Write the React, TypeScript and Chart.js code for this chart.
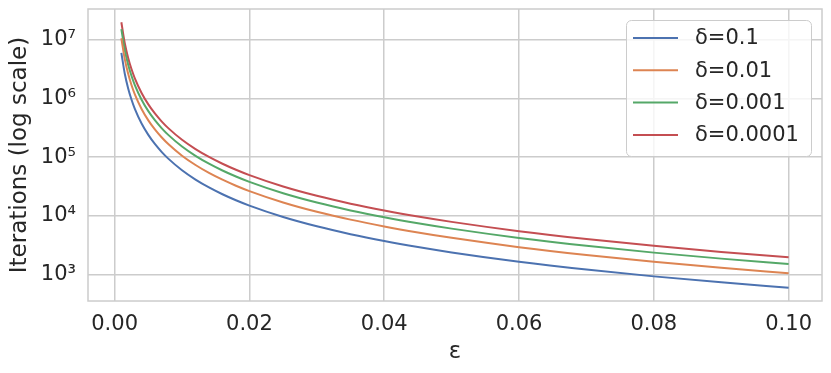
import React, { useEffect, useRef } from "react";
import { Chart, registerables } from "chart.js";

Chart.register(...registerables);

// ε values (x axis)
const epsilon = [
  0.001, 0.0015, 0.002, 0.0025, 0.003, 0.004, 0.005, 0.006, 0.007, 0.008, 0.01,
  0.012, 0.014, 0.016, 0.018, 0.02, 0.025, 0.03, 0.035, 0.04, 0.045, 0.05, 0.06,
  0.07, 0.08, 0.09, 0.1,
];

// Iterations for each δ
const delta1 = [
  5990000, 2662000, 1498000, 958500, 665600, 374400, 239600, 166400, 122300, 93600,
  59900, 41600, 30560, 23400, 18490, 14980, 9585, 6656, 4890, 3744, 2958, 2396,
  1664, 1223, 936, 740, 599,
];
const delta2 = [
  10600000, 4710000, 2650000, 1696000, 1178000, 662300, 423900, 294400, 216300,
  165600, 106000, 73590, 54070, 41390, 32710, 26490, 16960, 11770, 8650, 6623,
  5233, 4239, 2944, 2163, 1656, 1308, 1060,
];
const delta3 = [
  15200000, 6756000, 3800000, 2432000, 1689000, 950100, 608100, 422300, 310200,
  237500, 152000, 105600, 77560, 59380, 46920, 38010, 24320, 16890, 12410, 9501,
  7507, 6081, 4223, 3102, 2375, 1877, 1520,
];
const delta4 = [
  19810000, 8803000, 4952000, 3169000, 2201000, 1238000, 792300, 550200, 404200,
  309500, 198100, 137500, 101100, 77370, 61130, 49520, 31690, 22010, 16170, 12380,
  9781, 7923, 5502, 4042, 3095, 2445, 1981,
];

const seriesLabels = ["δ=0.1", "δ=0.01", "δ=0.001", "δ=0.0001"];
const seriesValues = [delta1, delta2, delta3, delta4];
const seriesColors = ["#4C72B0", "#DD8452", "#55A868", "#C44E52"];

const xTicks = [0, 0.02, 0.04, 0.06, 0.08, 0.1];
const xTickLabels = ["0.00", "0.02", "0.04", "0.06", "0.08", "0.10"];
const yTicks = [1e3, 1e4, 1e5, 1e6, 1e7];
const yTickLabels = ["10³", "10⁴", "10⁵", "10⁶", "10⁷"];

const xTitle = "ε";
const yTitle = "Iterations (log scale)";

const FONT = "'DejaVu Sans', sans-serif";
const TEXT = "#262626";
const GRID = "#cccccc";

const framePlugin = {
  id: "frame",
  afterDraw(chart: any) {
    const { ctx, chartArea } = chart;
    ctx.save();
    ctx.strokeStyle = GRID;
    ctx.lineWidth = 1.5;
    ctx.strokeRect(
      chartArea.left,
      chartArea.top,
      chartArea.right - chartArea.left,
      chartArea.bottom - chartArea.top
    );
    ctx.restore();
  },
};

const legendPlugin = {
  id: "mplLegend",
  afterDraw(chart: any) {
    const { ctx, chartArea } = chart;
    const boxRight = chartArea.right - 11;
    const boxTop = chartArea.top + 11;
    const boxW = 185;
    const boxH = 136;
    const boxLeft = boxRight - boxW;
    ctx.save();
    ctx.beginPath();
    ctx.roundRect(boxLeft + 0.5, boxTop + 0.5, boxW, boxH, 5);
    ctx.fillStyle = "rgba(255,255,255,0.8)";
    ctx.fill();
    ctx.strokeStyle = GRID;
    ctx.lineWidth = 1;
    ctx.stroke();
    ctx.font = `21px ${FONT}`;
    ctx.textBaseline = "middle";
    ctx.textAlign = "left";
    chart.data.datasets.forEach((ds: any, i: number) => {
      const y = boxTop + 18 + i * 32.3;
      ctx.beginPath();
      ctx.strokeStyle = ds.borderColor;
      ctx.lineWidth = 2;
      ctx.moveTo(boxLeft + 7, y);
      ctx.lineTo(boxLeft + 52, y);
      ctx.stroke();
      ctx.fillStyle = TEXT;
      ctx.fillText(ds.label, boxLeft + 69, y + 1);
    });
    ctx.restore();
  },
};

export default function App() {
  const ref = useRef<HTMLCanvasElement | null>(null);

  useEffect(() => {
    document.body.style.margin = "0";
    const canvas = ref.current;
    if (!canvas) return;
    const chart = new Chart(canvas, {
      type: "line",
      data: {
        datasets: seriesValues.map((vals, i) => ({
          label: seriesLabels[i],
          data: epsilon.map((x, j) => ({ x, y: vals[j] })),
          borderColor: seriesColors[i],
          backgroundColor: seriesColors[i],
          borderWidth: 2,
          pointRadius: 0,
          fill: false,
          cubicInterpolationMode: "monotone",
        })),
      },
      options: {
        animation: false,
        responsive: false,
        devicePixelRatio: 1,
        layout: { padding: { top: 9, right: 9, left: 0, bottom: 0 } },
        plugins: {
          legend: { display: false },
          tooltip: { enabled: false },
        },
        scales: {
          x: {
            type: "linear",
            min: -0.00395,
            max: 0.10495,
            afterBuildTicks: (scale: any) => {
              scale.ticks = xTicks.map((v) => ({ value: v }));
            },
            afterFit: (scale: any) => {
              scale.height = 72;
              scale.paddingLeft = 0;
              scale.paddingRight = 0;
            },
            ticks: {
              autoSkip: false,
              maxRotation: 0,
              padding: 11,
              color: TEXT,
              font: { family: FONT, size: 21 },
              callback: (v: any) => {
                const idx = xTicks.findIndex((t) => Math.abs(t - Number(v)) < 1e-9);
                return idx >= 0 ? xTickLabels[idx] : "";
              },
            },
            grid: { color: GRID, lineWidth: 1.5, drawTicks: false },
            border: { display: false },
            title: {
              display: true,
              text: xTitle,
              color: TEXT,
              font: { family: FONT, size: 23 },
              padding: { top: 0, bottom: 7 },
            },
          },
          y: {
            type: "logarithmic",
            min: 356.5,
            max: 33340000,
            afterBuildTicks: (scale: any) => {
              scale.ticks = yTicks.map((v) => ({ value: v }));
            },
            afterFit: (scale: any) => {
              scale.width = 88;
              scale.paddingTop = 0;
              scale.paddingBottom = 0;
            },
            ticks: {
              autoSkip: false,
              padding: 12,
              color: TEXT,
              font: { family: FONT, size: 21 },
              callback: (v: any) => {
                const idx = yTicks.findIndex((t) => Math.abs(Math.log10(t) - Math.log10(Number(v))) < 1e-6);
                return idx >= 0 ? yTickLabels[idx] : "";
              },
            },
            grid: { color: GRID, lineWidth: 1.5, drawTicks: false },
            border: { display: false },
            title: {
              display: true,
              text: yTitle,
              color: TEXT,
              font: { family: FONT, size: 23 },
              padding: { top: 6, bottom: 0 },
            },
          },
        },
      },
      plugins: [framePlugin, legendPlugin],
    } as any);
    return () => chart.destroy();
  }, []);

  return (
    <div style={{ width: 831, height: 373 }}>
      <canvas ref={ref} width={831} height={373} style={{ display: "block" }} />
    </div>
  );
}
